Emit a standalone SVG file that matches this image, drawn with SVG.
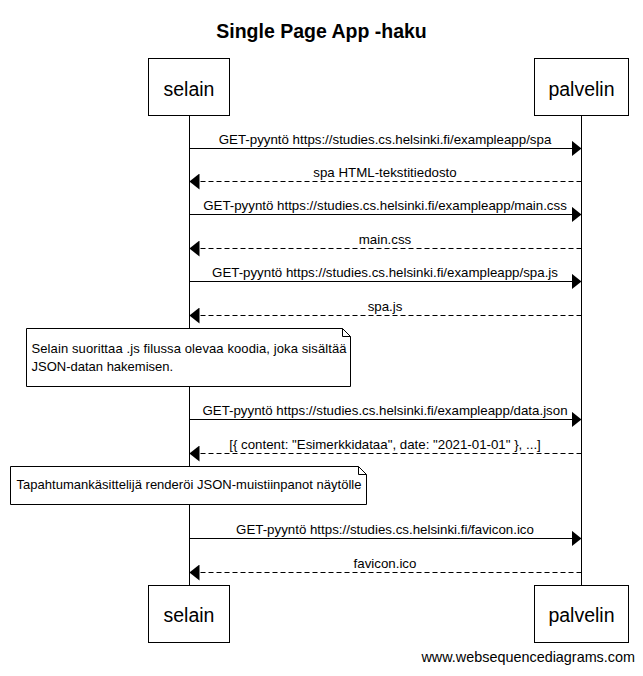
<svg xmlns="http://www.w3.org/2000/svg" width="643" height="676" viewBox="0 0 643 676">
<style>
  text { font-family: "Liberation Sans", Arial, sans-serif; fill: #000; }
  .title { font-size: 19.5px; font-weight: bold; text-anchor: middle; }
  .actor { fill: #fff; stroke: #000; stroke-width: 1; }
  .actorLabel { font-size: 19.5px; text-anchor: middle; }
  .life { stroke: #000; stroke-width: 1; }
  .msg { stroke: #000; stroke-width: 1; fill: none; marker-end: url(#head); }
  .reply { stroke-dasharray: 5,3; }
  .msgLabel { font-size: 13.3px; text-anchor: middle; }
  .note { fill: #fff; stroke: #000; stroke-width: 1; }
  .noteText { font-size: 13px; }
  .footer { font-size: 14.4px; text-anchor: end; }
</style>
<defs>
  <marker id="head" markerUnits="userSpaceOnUse" markerWidth="10" markerHeight="16" refX="10" refY="8" orient="auto">
    <path d="M0,0 L10,8 L0,16 z" fill="#000"/>
  </marker>
</defs>
<rect width="643" height="676" fill="#fff"/>
<text class="title" x="321.5" y="38">Single Page App -haku</text>

<g id="lifelines">
  <line class="life" x1="189.5" y1="115.5" x2="189.5" y2="585.5"/>
  <line class="life" x1="581.5" y1="115.5" x2="581.5" y2="585.5"/>
</g>

<g id="selain">
  <rect class="actor" x="148.5" y="58.5" width="81" height="57"/>
  <text class="actorLabel" x="189" y="96">selain</text>
</g>
<g id="palvelin">
  <rect class="actor" x="534.5" y="58.5" width="94" height="57"/>
  <text class="actorLabel" x="581.5" y="96">palvelin</text>
</g>
<g id="selain-bottom">
  <rect class="actor" x="148.5" y="585.5" width="81" height="57"/>
  <text class="actorLabel" x="189" y="622">selain</text>
</g>
<g id="palvelin-bottom">
  <rect class="actor" x="534.5" y="585.5" width="94" height="57"/>
  <text class="actorLabel" x="581.5" y="622">palvelin</text>
</g>

<g id="connectors">
  <line class="msg" x1="189.5" y1="148.5" x2="581.5" y2="148.5"/>
  <text class="msgLabel" x="385" y="143.5">GET-pyyntö https://studies.cs.helsinki.fi/exampleapp/spa</text>

  <line class="msg reply" x1="581.5" y1="181.5" x2="189.5" y2="181.5"/>
  <text class="msgLabel" x="385" y="176.5">spa HTML-tekstitiedosto</text>

  <line class="msg" x1="189.5" y1="214.5" x2="581.5" y2="214.5"/>
  <text class="msgLabel" x="385" y="209.5">GET-pyyntö https://studies.cs.helsinki.fi/exampleapp/main.css</text>

  <line class="msg reply" x1="581.5" y1="248.5" x2="189.5" y2="248.5"/>
  <text class="msgLabel" x="385" y="243.5">main.css</text>

  <line class="msg" x1="189.5" y1="281.5" x2="581.5" y2="281.5"/>
  <text class="msgLabel" x="385" y="276.5">GET-pyyntö https://studies.cs.helsinki.fi/exampleapp/spa.js</text>

  <line class="msg reply" x1="581.5" y1="315.5" x2="189.5" y2="315.5"/>
  <text class="msgLabel" x="385" y="310.5">spa.js</text>

  <line class="msg" x1="189.5" y1="419.5" x2="581.5" y2="419.5"/>
  <text class="msgLabel" x="385" y="414.5">GET-pyyntö https://studies.cs.helsinki.fi/exampleapp/data.json</text>

  <line class="msg reply" x1="581.5" y1="453.5" x2="189.5" y2="453.5"/>
  <text class="msgLabel" x="385" y="448.5">[{ content: "Esimerkkidataa", date: "2021-01-01" }, ...]</text>

  <line class="msg" x1="189.5" y1="538.5" x2="581.5" y2="538.5"/>
  <text class="msgLabel" x="385" y="533.5">GET-pyyntö https://studies.cs.helsinki.fi/favicon.ico</text>

  <line class="msg reply" x1="581.5" y1="572.5" x2="189.5" y2="572.5"/>
  <text class="msgLabel" x="385" y="567.5">favicon.ico</text>
</g>

<g id="note1">
  <path class="note" d="M26.5,328.5 H342.5 L350.5,336.5 V386.5 H26.5 Z"/>
  <path d="M342.5,328.5 V336.5 H350.5" fill="none" stroke="#000" stroke-width="1"/>
  <text class="noteText" x="31.5" y="353" textLength="315" lengthAdjust="spacing">Selain suorittaa .js filussa olevaa koodia, joka sisältää</text>
  <text class="noteText" x="31.5" y="371">JSON-datan hakemisen.</text>
</g>

<g id="note2">
  <path class="note" d="M10.5,466.5 H358.5 L366.5,474.5 V504.5 H10.5 Z"/>
  <path d="M358.5,466.5 V474.5 H366.5" fill="none" stroke="#000" stroke-width="1"/>
  <text class="noteText" x="16.5" y="489" textLength="345" lengthAdjust="spacing">Tapahtumankäsittelijä renderöi JSON-muistiinpanot näytölle</text>
</g>

<text class="footer" x="635" y="662">www.websequencediagrams.com</text>
</svg>
